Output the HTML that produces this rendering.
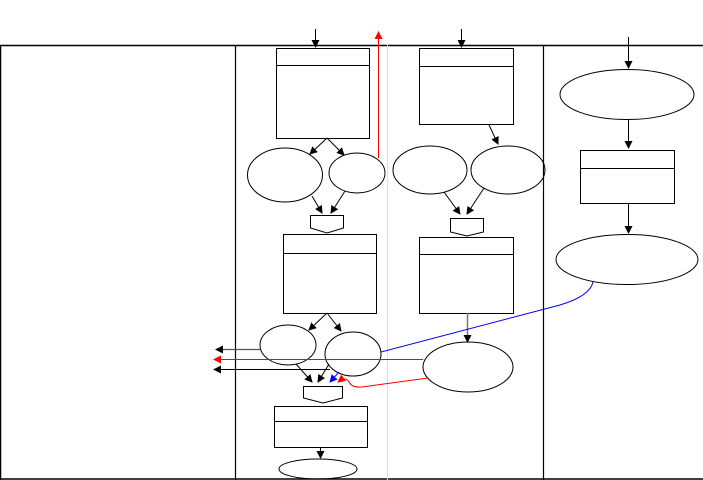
<!DOCTYPE html>
<html><head><style>html,body{margin:0;padding:0;background:#fff}svg{display:block}</style></head>
<body>
<svg width="703" height="480" viewBox="0 0 703 480" xmlns="http://www.w3.org/2000/svg">
<defs>
<marker id="ak" markerWidth="8" markerHeight="8" refX="7" refY="4" orient="auto" markerUnits="userSpaceOnUse"><path d="M0,0 L8,4 L0,8 z" fill="#000"/></marker>
<marker id="ar" markerWidth="8" markerHeight="8" refX="7" refY="4" orient="auto" markerUnits="userSpaceOnUse"><path d="M0,0 L8,4 L0,8 z" fill="#f00"/></marker>
<marker id="ab" markerWidth="8" markerHeight="8" refX="7" refY="4" orient="auto" markerUnits="userSpaceOnUse"><path d="M0,0 L8,4 L0,8 z" fill="#00f"/></marker>
</defs>
<g fill="none" stroke="#000" stroke-width="1">
<!-- frame -->
<line x1="0" y1="45.5" x2="703" y2="45.5" stroke-width="1.5"/>
<line x1="0.5" y1="45" x2="0.5" y2="480" stroke-width="1.5"/>
<line x1="0" y1="479" x2="703" y2="479" stroke-width="1.5"/>
<line x1="235.5" y1="45" x2="235.5" y2="480" stroke-width="1.2"/>
<line x1="543.5" y1="45" x2="543.5" y2="480" stroke-width="1.2"/>
<line x1="387.5" y1="45" x2="387.5" y2="480" stroke="#ddd"/>
<!-- top arrows -->
<line x1="315.5" y1="29" x2="315.5" y2="47" marker-end="url(#ak)"/>
<line x1="461.5" y1="29" x2="461.5" y2="47" marker-end="url(#ak)"/>
<line x1="628.5" y1="37" x2="628.5" y2="68" marker-end="url(#ak)"/>
<line x1="378.5" y1="158" x2="378.5" y2="32" stroke="#f00" marker-end="url(#ar)"/>
<!-- boxes -->
<rect x="276.5" y="48.5" width="93" height="90"/><line x1="276" y1="65.5" x2="370" y2="65.5"/>
<rect x="419.5" y="48.5" width="94" height="76"/><line x1="419" y1="66.5" x2="513" y2="66.5"/>
<rect x="283.5" y="234.5" width="93" height="79"/><line x1="283" y1="253.5" x2="376" y2="253.5"/>
<rect x="419.5" y="237.5" width="94" height="76"/><line x1="419" y1="254.5" x2="513" y2="254.5"/>
<rect x="274.5" y="406.5" width="93" height="41"/><line x1="274" y1="421.5" x2="368" y2="421.5"/>
<rect x="580.5" y="150.5" width="94" height="53"/><line x1="580" y1="168.5" x2="674" y2="168.5"/>
<!-- ellipses -->
<ellipse cx="285" cy="175" rx="37.5" ry="27"/>
<ellipse cx="357" cy="173" rx="28" ry="20"/>
<ellipse cx="430" cy="170" rx="37" ry="24"/>
<ellipse cx="508" cy="170" rx="37" ry="24"/>
<ellipse cx="288" cy="345" rx="28" ry="20"/>
<ellipse cx="353" cy="354" rx="28" ry="22"/>
<ellipse cx="468" cy="367" rx="45" ry="25"/>
<ellipse cx="318" cy="469" rx="39" ry="10"/>
<ellipse cx="627" cy="94.5" rx="67" ry="25"/>
<ellipse cx="627" cy="259.5" rx="71" ry="25"/>
<!-- pentagons -->
<path d="M310.5,215.5 H343.5 V228 L327,233 L310.5,228 Z"/>
<path d="M450.5,218.5 H483.5 V232 L467,236 L450.5,232 Z"/>
<path d="M303.5,386.5 H342.5 V398 L323,403 L303.5,398 Z"/>
<!-- arrows -->
<line x1="327" y1="138" x2="310" y2="154" marker-end="url(#ak)"/>
<line x1="327" y1="138" x2="344" y2="155" marker-end="url(#ak)"/>
<line x1="489" y1="125" x2="498" y2="144" marker-end="url(#ak)"/>
<line x1="312" y1="196" x2="322" y2="213" marker-end="url(#ak)"/>
<line x1="345" y1="191" x2="331" y2="213" marker-end="url(#ak)"/>
<line x1="444" y1="192" x2="460" y2="214" marker-end="url(#ak)"/>
<line x1="484" y1="188" x2="467" y2="214" marker-end="url(#ak)"/>
<line x1="327" y1="313" x2="309" y2="330" marker-end="url(#ak)"/>
<line x1="327" y1="313" x2="341" y2="331" marker-end="url(#ak)"/>
<line x1="467.5" y1="313" x2="467.5" y2="342" marker-end="url(#ak)" stroke="#777" stroke-width="1.5"/>
<line x1="296" y1="364" x2="312" y2="382" marker-end="url(#ak)"/>
<line x1="329" y1="364" x2="318" y2="382" marker-end="url(#ak)"/>
<line x1="339" y1="372" x2="330" y2="382" stroke="#00f" marker-end="url(#ab)"/>
<path d="M428,378 L362,387 Q352,388 349,382 Q346,376 338,382" stroke="#f00" marker-end="url(#ar)"/>
<path d="M381,352 L560,305 Q590,296 593,282" stroke="#00f"/>
<line x1="260" y1="349.5" x2="216" y2="349.5" marker-end="url(#ak)" stroke="#555" stroke-width="1.3"/>
<line x1="423" y1="359.5" x2="214" y2="359.5" stroke="#f00" marker-end="url(#ar)"/>
<line x1="330" y1="369.5" x2="214" y2="369.5" marker-end="url(#ak)"/>
<line x1="320.5" y1="447" x2="320.5" y2="458" marker-end="url(#ak)"/>
<line x1="628.5" y1="119" x2="628.5" y2="148" marker-end="url(#ak)"/>
<line x1="628.5" y1="203" x2="628.5" y2="233" marker-end="url(#ak)"/>
</g>
</svg>
</body></html>
